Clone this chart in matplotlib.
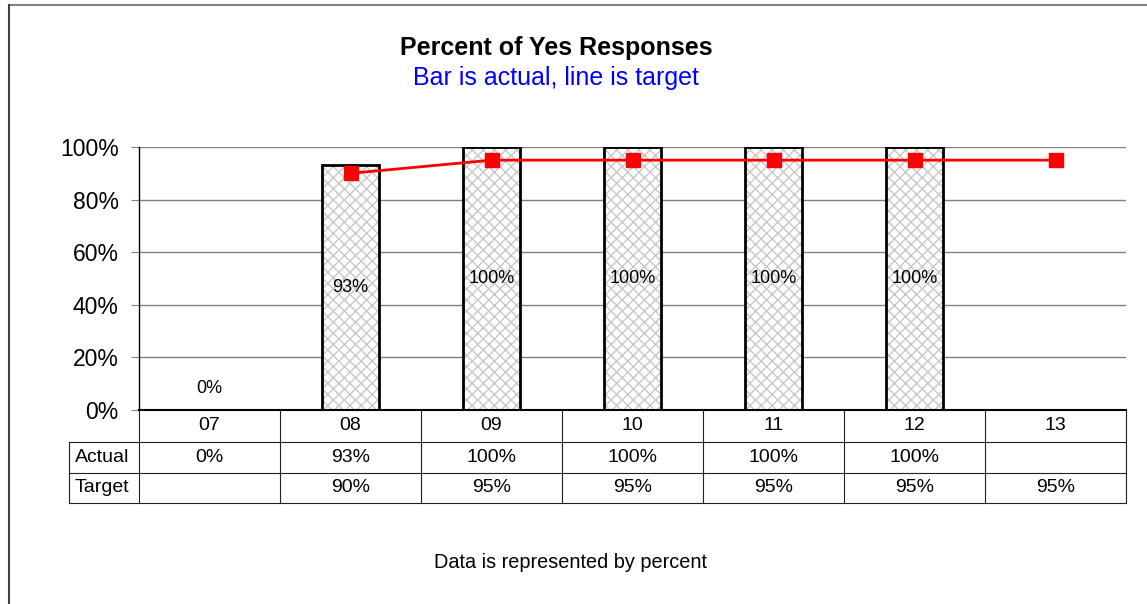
import matplotlib.pyplot as plt
import matplotlib.transforms as mtransforms
from matplotlib.lines import Line2D
import numpy as np

plt.rcParams['font.family'] = ['Liberation Sans', 'DejaVu Sans']
plt.rcParams['hatch.linewidth'] = 1.0

categories = ['07', '08', '09', '10', '11', '12', '13']
actual = [0, 93, 100, 100, 100, 100, None]
target = [None, 90, 95, 95, 95, 95, 95]

W, H = 1147, 604
fig = plt.figure(figsize=(W / 100, H / 100), dpi=100)


def fx(px):
    return px / W


def fy(py):
    return 1 - py / H


left, right, top, bottom = 139, 1126, 147, 410
ax = fig.add_axes([fx(left), fy(bottom), fx(right - left), fy(top) - fy(bottom)])

x = np.arange(len(categories))
bar_x = [i for i, v in enumerate(actual) if v is not None]
bar_v = [v for v in actual if v is not None]

ax.bar(bar_x, bar_v, width=0.4, color='white', edgecolor='#c8c8c8',
       hatch='xxx', linewidth=0, zorder=2)
ax.bar(bar_x, bar_v, width=0.4, fill=False, edgecolor='black',
       linewidth=2, zorder=3)

for i, v in zip(bar_x, bar_v):
    ypos = v / 2 if v > 0 else 8
    ax.text(i, ypos, f'{v}%', ha='center', va='center', fontsize=13, zorder=4)

line_x = [i for i, v in enumerate(target) if v is not None]
line_v = [v for v in target if v is not None]
ax.plot(line_x, line_v, color='#ff0000', linewidth=2, marker='s',
        markersize=10, zorder=5)

ax.set_xlim(-0.5, len(categories) - 0.5)
ax.set_ylim(0, 100)
ax.set_yticks(range(0, 101, 20))
ax.set_yticklabels([f'{t}%' for t in range(0, 101, 20)], fontsize=16.5)
ax.yaxis.grid(True, color='#808080', linewidth=1)
ax.set_axisbelow(True)
ax.set_xticks([])
for s in ['top', 'right']:
    ax.spines[s].set_visible(False)
ax.spines['left'].set_linewidth(1)
ax.spines['bottom'].set_linewidth(1.5)
ax.tick_params(axis='y', length=6, color='#808080', pad=8.5)

# data table under the axis
trans = mtransforms.blended_transform_factory(ax.transData, fig.transFigure)
rows = [410, 442, 473, 503]
cell = (right - left) / len(categories)

for i, c in enumerate(categories):
    ax.text(i, fy((rows[0] + rows[1]) / 2), c, transform=trans,
            ha='center', va='center', fontsize=14)
    if actual[i] is not None:
        ax.text(i, fy((rows[1] + rows[2]) / 2), f'{actual[i]}%', transform=trans,
                ha='center', va='center', fontsize=14)
    if target[i] is not None:
        ax.text(i, fy((rows[2] + rows[3]) / 2), f'{target[i]}%', transform=trans,
                ha='center', va='center', fontsize=14)

fig.text(fx(75), fy((rows[1] + rows[2]) / 2), 'Actual', ha='left', va='center', fontsize=14)
fig.text(fx(75), fy((rows[2] + rows[3]) / 2), 'Target', ha='left', va='center', fontsize=14)

lc = '#202020'
for yy in rows[1:]:
    fig.add_artist(Line2D([fx(69), fx(right)], [fy(yy), fy(yy)], color=lc, linewidth=0.8))
for k in range(len(categories) + 1):
    xx = left + cell * k
    fig.add_artist(Line2D([fx(xx), fx(xx)], [fy(rows[0]), fy(rows[3])], color=lc, linewidth=0.8))
fig.add_artist(Line2D([fx(69), fx(69)], [fy(rows[1]), fy(rows[3])], color=lc, linewidth=0.8))

# titles
fig.text(fx(556), fy(48), 'Percent of Yes Responses', ha='center', va='center',
         fontsize=18, fontweight='bold')
fig.text(fx(556), fy(78), 'Bar is actual, line is target', ha='center', va='center',
         fontsize=18, color='#0000ff')
fig.text(fx(571), fy(562), 'Data is represented by percent', ha='center', va='center',
         fontsize=14.3)

# outer frame
fig.add_artist(Line2D([fx(9), fx(W)], [fy(5), fy(5)], color='#808080', linewidth=1.5))
fig.add_artist(Line2D([fx(9), fx(9)], [fy(5), 0], color='#404040', linewidth=1.5))

fig.savefig('out.png', dpi=100)
